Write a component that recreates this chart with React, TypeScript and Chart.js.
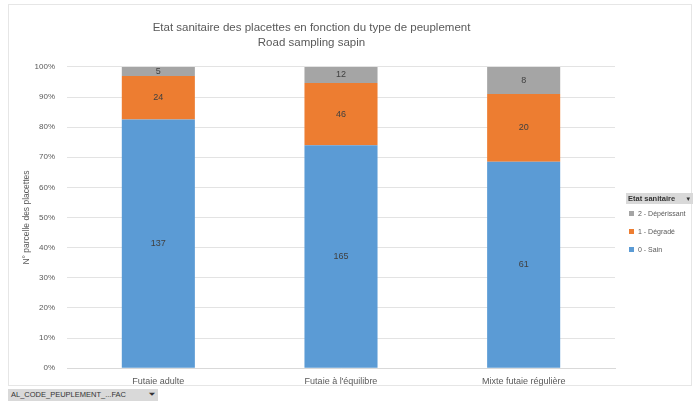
import React, { useEffect, useRef } from "react";
import { Chart, registerables } from "chart.js";

Chart.register(...registerables);

// ---- data ----
const categories = ["Futaie adulte", "Futaie à l'équilibre", "Mixte futaie régulière"];
const sainCounts = [137, 165, 61];
const degradeCounts = [24, 46, 20];
const deperissantCounts = [5, 12, 8];
const seriesNames = ["0 - Sain", "1 - Dégradé", "2 - Dépérissant"];
const yTickValues = [0, 10, 20, 30, 40, 50, 60, 70, 80, 90, 100];
const titleLines = ["Etat sanitaire des placettes en fonction du type de peuplement", "Road sampling sapin"];
const yAxisTitle = "N° parcelle des placettes";
const legendTitle = "Etat sanitaire";
const pivotField = "AL_CODE_PEUPLEMENT_...FAC";

const seriesColors = ["#5B9BD5", "#ED7D31", "#A5A5A5"];
const FONT = "'Liberation Sans', 'DejaVu Sans', sans-serif";

const allCounts = [sainCounts, degradeCounts, deperissantCounts];
const totals = categories.map((_, i) => allCounts.reduce((s, arr) => s + arr[i], 0));

const labelPlugin = {
  id: "segLabels",
  afterDatasetsDraw(chart: any) {
    const ctx = chart.ctx;
    ctx.save();
    ctx.font = `9px ${FONT}`;
    ctx.fillStyle = "#404040";
    ctx.textAlign = "center";
    ctx.textBaseline = "middle";
    chart.data.datasets.forEach((ds: any, di: number) => {
      const meta = chart.getDatasetMeta(di);
      meta.data.forEach((bar: any, i: number) => {
        const y = (bar.y + bar.base) / 2;
        ctx.fillText(String(ds.counts[i]), bar.x, y);
      });
    });
    ctx.restore();
  },
};

export default function App() {
  const ref = useRef<HTMLCanvasElement>(null);
  useEffect(() => {
    document.body.style.margin = "0";
    const chart = new Chart(ref.current!, {
      type: "bar",
      data: {
        labels: categories,
        datasets: allCounts.map((arr, k) => ({
          label: seriesNames[k],
          data: arr.map((v, i) => (v / totals[i]) * 100),
          counts: arr,
          backgroundColor: seriesColors[k],
          borderWidth: 0,
          categoryPercentage: 0.4,
          barPercentage: 1,
        })) as any,
      },
      options: {
        animation: false,
        responsive: false,
        events: [],
        layout: { padding: { left: 8, right: 80, top: 0, bottom: 16 } },
        plugins: {
          legend: { display: false },
          tooltip: { enabled: false },
          title: {
            display: true,
            text: titleLines,
            color: "#595959",
            font: { family: FONT, size: 11.5, weight: "normal", lineHeight: 1.3 },
            padding: { top: 20, bottom: 17 },
          },
        },
        scales: {
          x: {
            stacked: true,
            grid: { display: false },
            border: { color: "#D9D9D9" },
            ticks: { color: "#595959", font: { family: FONT, size: 9 }, padding: 0 },
          },
          y: {
            stacked: true,
            min: 0,
            max: 100,
            afterBuildTicks(scale: any) {
              scale.ticks = yTickValues.map((v) => ({ value: v }));
            },
            afterFit(scale: any) {
              scale.width = 59;
            },
            grid: { color: "#E3E3E3", drawTicks: false },
            border: { display: false },
            ticks: {
              color: "#595959",
              font: { family: FONT, size: 8 },
              padding: 12,
              callback: (v: any) => `${v}%`,
            },
            title: {
              display: true,
              text: yAxisTitle,
              color: "#595959",
              font: { family: FONT, size: 8.5 },
              padding: { top: 14, bottom: 0 },
            },
          },
        },
      } as any,
      plugins: [labelPlugin],
    });
    return () => chart.destroy();
  }, []);

  const legendOrder = [2, 1, 0];
  return (
    <div style={{ position: "fixed", left: 0, top: 0, width: 695, height: 403, background: "#fff", fontFamily: FONT, overflow: "hidden" }}>
      <div style={{ position: "absolute", left: 8, top: 4, width: 684, height: 382, border: "1px solid #E6E6E6", boxSizing: "border-box" }} />
      <canvas ref={ref} width={695} height={403} style={{ position: "absolute", left: 0, top: 0 }} />
      <div style={{ position: "absolute", left: 626, top: 193, width: 67 }}>
        <div style={{ background: "#D9D9D9", height: 11, fontSize: 7.5, lineHeight: "11px", color: "#333", paddingLeft: 2, display: "flex", justifyContent: "space-between", fontWeight: "bold" }}>
          <span>{legendTitle}</span>
          <span style={{ fontWeight: "normal", paddingRight: 3, fontSize: 7 }}>▾</span>
        </div>
        {legendOrder.map((k) => (
          <div key={k} style={{ display: "flex", alignItems: "center", height: 18, fontSize: 7, color: "#595959" }}>
            <span style={{ display: "inline-block", width: 5, height: 5, background: seriesColors[k], marginLeft: 3, marginRight: 4 }} />
            <span>{seriesNames[k]}</span>
          </div>
        ))}
      </div>
      <div style={{ position: "absolute", left: 8, top: 389, height: 12, width: 150, background: "#D9D9D9", fontSize: 7.5, lineHeight: "12px", color: "#333", paddingLeft: 3, boxSizing: "border-box", display: "flex", justifyContent: "space-between" }}>
        <span>{pivotField}</span>
        <span style={{ paddingRight: 3 }}>⏷</span>
      </div>
    </div>
  );
}
